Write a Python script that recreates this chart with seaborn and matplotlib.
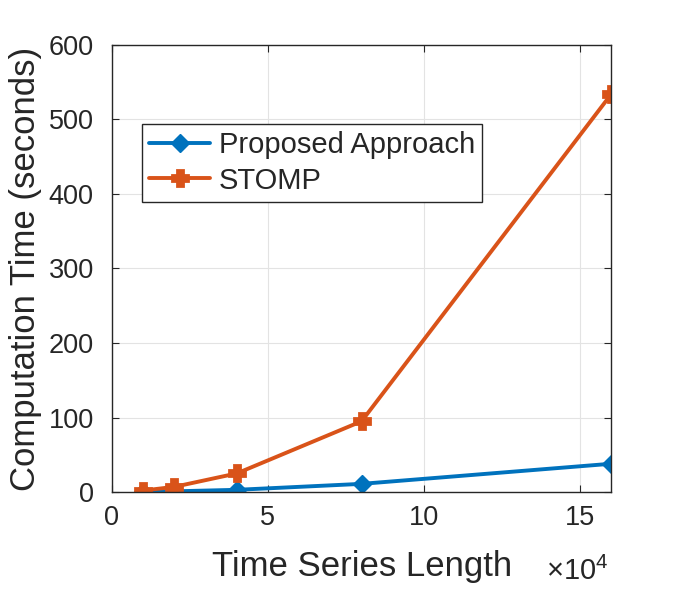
import numpy as np
import pandas as pd
import matplotlib
matplotlib.use("Agg")
import matplotlib.pyplot as plt
import seaborn as sns

# data (x in units of 10^4)
length = [1, 2, 4, 8, 16]
proposed_time = [0.5, 1, 3, 11, 38]
stomp_time = [2, 7, 25, 95, 534]

df = pd.DataFrame({
    "Length": length * 2,
    "Time": proposed_time + stomp_time,
    "Method": ["Proposed Approach"] * len(length) + ["STOMP"] * len(length),
})

sns.set_theme(style="whitegrid")
plt.rcParams["font.family"] = ["Liberation Sans", "DejaVu Sans"]
plt.rcParams["mathtext.fontset"] = "custom"
plt.rcParams["mathtext.rm"] = "Liberation Sans"

fig = plt.figure(figsize=(6.74, 5.90), dpi=100)
ax = fig.add_axes([0.166, 0.166, 0.741, 0.758])

blue = "#0072BD"
orange = "#D95319"

sns.lineplot(
    data=df, x="Length", y="Time", hue="Method", style="Method",
    markers={"Proposed Approach": "D", "STOMP": "P"}, dashes=False,
    palette={"Proposed Approach": blue, "STOMP": orange},
    linewidth=2.8, ax=ax,
)

# chunky markers like the original
for ln in ax.lines:
    c = ln.get_color()
    ln.set_markerfacecolor(c)
    ln.set_markeredgecolor(c)
    if ln.get_marker() == "D":
        ln.set_markersize(9)
        ln.set_markeredgewidth(1.0)
    else:
        ln.set_markersize(11)
        ln.set_markeredgewidth(2.0)

ax.set_xlim(0, 16)
ax.set_ylim(0, 600)
ax.set_xticks([0, 5, 10, 15])
ax.set_yticks(range(0, 601, 100))
ax.grid(True, color="#e3e3e3", linewidth=0.8)
for s in ax.spines.values():
    s.set_visible(True)
    s.set_color("#262626")
    s.set_linewidth(1.0)
ax.tick_params(direction="in", length=5, width=0.8, color="#262626",
               labelsize=19.5, labelcolor="#262626",
               top=True, right=True, bottom=True, left=True)
ax.tick_params(axis="y", pad=13)
ax.tick_params(axis="x", pad=9)

ax.set_xlabel("Time Series Length", fontsize=25, color="#262626", labelpad=14)
ax.set_ylabel("Computation Time (seconds)", fontsize=25, color="#262626", labelpad=5)
ax.text(0.995, -0.197, "\u00d710$^{4}$", transform=ax.transAxes,
        ha="right", va="baseline", fontsize=21, color="#262626")

leg = ax.legend(title=None, loc="upper left", bbox_to_anchor=(0.0595, 0.823),
                fontsize=21, frameon=True, fancybox=False, framealpha=1,
                edgecolor="#262626", borderpad=0.25, handlelength=2.1,
                handletextpad=0.3, labelspacing=0.25, borderaxespad=0)
leg.get_frame().set_linewidth(1.0)
for h in leg.legend_handles:
    h.set_linewidth(2.8)
    h.set_markerfacecolor(h.get_color())
    h.set_markeredgecolor(h.get_color())
    h.set_markeredgewidth(2.0 if h.get_marker() == "P" else 1.0)
    h.set_markersize(11 if h.get_marker() == "P" else 9)

fig.savefig("out.png", dpi=100)
